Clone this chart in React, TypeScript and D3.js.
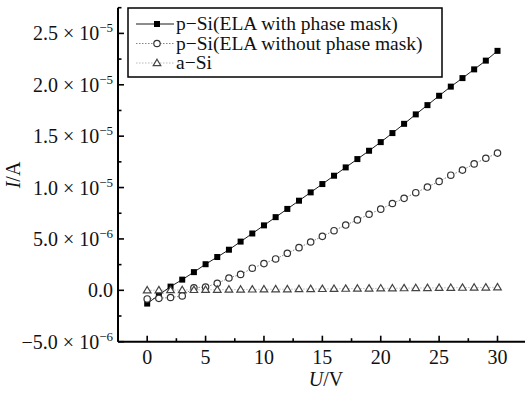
import React from "react";
import * as d3 from "d3";

const voltages = d3.range(0, 31);
const withMask = [-1.29, -0.45, 0.36, 1.04, 1.77, 2.54, 3.24, 3.95, 4.74, 5.53, 6.32, 7.12, 7.92, 8.72, 9.53, 10.34, 11.15, 11.96, 12.77, 13.58, 14.42, 15.3, 16.2, 17.12, 18.02, 18.93, 19.82, 20.65, 21.5, 22.35, 23.3].map(v => v * 1e-6);
const withoutMask = [-0.84, -0.78, -0.7, -0.55, 0.25, 0.32, 0.68, 1.2, 1.55, 2.15, 2.6, 3.05, 3.6, 4.15, 4.7, 5.25, 5.8, 6.35, 6.85, 7.4, 7.9, 8.45, 8.95, 9.5, 10.05, 10.6, 11.2, 11.7, 12.3, 12.85, 13.35].map(v => v * 1e-6);
const aSi = [0.0, 0.01, 0.02, 0.03, 0.04, 0.05, 0.06, 0.07, 0.08, 0.09, 0.1, 0.11, 0.11, 0.12, 0.13, 0.14, 0.15, 0.16, 0.17, 0.18, 0.19, 0.2, 0.21, 0.22, 0.23, 0.24, 0.25, 0.26, 0.27, 0.28, 0.3].map(v => v * 1e-6);

const xTicks = [0, 5, 10, 15, 20, 25, 30];
const xMinor = [-2.5, 2.5, 7.5, 12.5, 17.5, 22.5, 27.5, 32.5];
const yTicks = [-5e-6, 0, 5e-6, 1e-5, 1.5e-5, 2e-5, 2.5e-5];
const yTickMant = ["\u22125.0", "0.0", "5.0", "1.0", "1.5", "2.0", "2.5"];
const yTickExp = ["\u22126", "", "\u22126", "\u22125", "\u22125", "\u22125", "\u22125"];
const yMinor = [-2.5e-6, 2.5e-6, 7.5e-6, 1.25e-5, 1.75e-5, 2.25e-5, 2.75e-5];
const legendLabels = ["p\u2212Si(ELA with phase mask)", "p\u2212Si(ELA without phase mask)", "a\u2212Si"];

const FONT = "Liberation Serif, DejaVu Serif, serif";
const ts: React.CSSProperties = { fontFamily: FONT };

const x = d3.scaleLinear().domain([-2.5, 32.5]).range([118, 526.7]);
const y = d3.scaleLinear().domain([-5e-6, 2.75e-5]).range([341.7, 7.7]);

function Square({ cx, cy }: { cx: number; cy: number }) {
  return <rect x={cx - 3} y={cy - 3} width={6} height={6} fill="#000" />;
}
function Circle({ cx, cy }: { cx: number; cy: number }) {
  return <circle cx={cx} cy={cy} r={3.2} fill="#fff" stroke="#333" strokeWidth={1.2} />;
}
function Tri({ cx, cy }: { cx: number; cy: number }) {
  const p = `${cx},${cy - 3.8} ${cx + 3.8},${cy + 2.6} ${cx - 3.8},${cy + 2.6}`;
  return <polygon points={p} fill="#fff" stroke="#444" strokeWidth={1.2} />;
}

export default function App() {
  const line = d3.line<number>().x((_, i) => x(voltages[i])).y(d => y(d));
  const xAxisY = y(-5e-6);
  const yAxisX = x(-2.5);
  return (
    <svg width={525} height={398} style={{ position: "absolute", left: 0, top: 0, background: "#fff", fontFamily: FONT }}>
      {/* series lines */}
      <path d={line(aSi) || ""} fill="none" stroke="#aaa" strokeWidth={0.8} strokeDasharray="1.5,1.5" />
      <path d={line(withoutMask) || ""} fill="none" stroke="#777" strokeWidth={0.9} strokeDasharray="1.5,1.5" />
      <path d={line(withMask) || ""} fill="none" stroke="#000" strokeWidth={0.9} />
      {/* markers */}
      {withMask.map((v, i) => <Square key={"s" + i} cx={x(voltages[i])} cy={y(v)} />)}
      {withoutMask.map((v, i) => <Circle key={"c" + i} cx={x(voltages[i])} cy={y(v)} />)}
      {aSi.map((v, i) => <Tri key={"t" + i} cx={x(voltages[i])} cy={y(v)} />)}

      {/* axes */}
      <line x1={yAxisX} y1={y(2.75e-5)} x2={yAxisX} y2={xAxisY} stroke="#000" strokeWidth={2} />
      <line x1={yAxisX} y1={xAxisY} x2={530} y2={xAxisY} stroke="#000" strokeWidth={2} />
      {xTicks.map(t => <line key={"xt" + t} x1={x(t)} x2={x(t)} y1={xAxisY} y2={xAxisY - 6} stroke="#000" strokeWidth={1.6} />)}
      {xMinor.map(t => <line key={"xm" + t} x1={x(t)} x2={x(t)} y1={xAxisY} y2={xAxisY - 3.5} stroke="#000" strokeWidth={1.6} />)}
      {yTicks.map(t => <line key={"yt" + t} x1={yAxisX} x2={yAxisX + 6} y1={y(t)} y2={y(t)} stroke="#000" strokeWidth={1.6} />)}
      {yMinor.map(t => <line key={"ym" + t} x1={yAxisX} x2={yAxisX + 3.5} y1={y(t)} y2={y(t)} stroke="#000" strokeWidth={1.6} />)}

      {xTicks.map(t => (
        <text key={"xl" + t} x={x(t)} y={364} fontSize={20} textAnchor="middle" fill="#111" style={ts}>{t}</text>
      ))}
      {yTicks.map((t, i) => (
        <text key={"yl" + t} x={113} y={y(t) + 7} fontSize={20} textAnchor="end" fill="#111" style={ts}>
          {yTickExp[i] ? (
            <>
              {yTickMant[i] + " \u00d7 10"}
              <tspan fontSize={13} dy={-8}>{yTickExp[i]}</tspan>
            </>
          ) : yTickMant[i]}
        </text>
      ))}

      {/* axis titles */}
      <text x={326} y={386} fontSize={20} textAnchor="middle" fill="#111" style={ts}>
        <tspan fontStyle="italic">U</tspan>/V
      </text>
      <text transform="translate(20,175) rotate(-90)" fontSize={20} textAnchor="middle" fill="#111" style={ts}>
        <tspan fontStyle="italic">I</tspan>/A
      </text>

      {/* legend */}
      <rect x={128} y={8} width={314} height={69} fill="#fff" stroke="#000" strokeWidth={1.5} />
      {legendLabels.map((lab, i) => {
        const cy = 24 + i * 19.5;
        return (
          <g key={"lg" + i}>
            {i === 0 && <line x1={136} x2={174} y1={cy} y2={cy} stroke="#000" strokeWidth={0.9} />}
            {i === 1 && <line x1={136} x2={174} y1={cy} y2={cy} stroke="#777" strokeWidth={0.9} strokeDasharray="1.5,1.5" />}
            {i === 2 && <line x1={136} x2={174} y1={cy} y2={cy} stroke="#aaa" strokeWidth={0.8} strokeDasharray="1.5,1.5" />}
            {i === 0 && <Square cx={157} cy={cy} />}
            {i === 1 && <Circle cx={157} cy={cy} />}
            {i === 2 && <Tri cx={157} cy={cy} />}
            <text x={176} y={cy + 6} fontSize={19.5} fill="#111" style={ts}>{lab}</text>
          </g>
        );
      })}
    </svg>
  );
}
